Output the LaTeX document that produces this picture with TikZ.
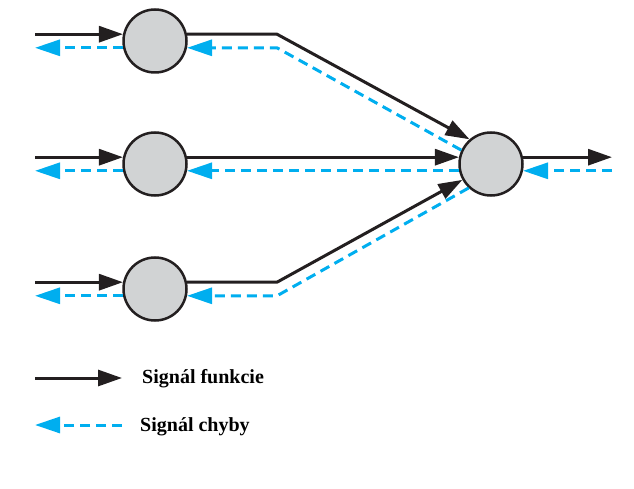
\documentclass[tikz,border=0pt]{standalone}
\usepackage{fontspec}
\setmainfont{Liberation Serif}
\usetikzlibrary{arrows.meta}
\definecolor{errblue}{RGB}{0,174,239}
\definecolor{nodegray}{RGB}{209,211,212}
\definecolor{linedark}{RGB}{35,31,32}

\begin{document}
\begin{tikzpicture}[x=1pt, y=1pt,
  neuron/.style={circle, draw=linedark, line width=2.5pt, fill=nodegray, minimum size=63pt, inner sep=0pt},
  fwd/.style={draw=linedark, line width=3pt, -{Triangle[length=24pt,width=16pt]}},
  back/.style={draw=errblue, line width=3pt, dash pattern=on 10pt off 6pt, -{Triangle[length=25pt,width=16pt]}},
  legend/.style={anchor=base west, inner sep=0pt, font=\fontsize{20}{24}\selectfont\bfseries}]
  \useasboundingbox (0,0) rectangle (634,488);

  \node[neuron] at (155,447) (c1) {};
  \node[neuron] at (155,324) (c2) {};
  \node[neuron] at (155,199) (c3) {};
  \node[neuron] at (491,324) (cout) {};
  \coordinate (in) at (35,0);
  \coordinate (out) at (612,0);
  \coordinate (k) at (277,0);

  % inputs
  \draw[fwd] (in |- c1.168) -- (c1.168);
  \draw[fwd] (in |- c2.168) -- (c2.168);
  \draw[fwd] (in |- c3.168) -- (c3.168);
  \draw[back] (c1.192) -- (in |- c1.192);
  \draw[back] (c2.192) -- (in |- c2.192);
  \draw[back] (c3.192) -- (in |- c3.192);

  % hidden to output
  \draw[fwd] (c1.12) -- (k |- c1.12) -- (cout.131);
  \draw[fwd] (c2.12) -- (cout.168);
  \draw[fwd] (c3.12) -- (k |- c3.12) -- (cout.209);
  \draw[back] (cout.155) -- (k |- c1.-12) -- (c1.-12);
  \draw[back] (cout.192) -- (c2.-12);
  \draw[back] (cout.227) -- (k |- c3.-12) -- (c3.-12);

  % output
  \draw[fwd] (cout.12) -- (out |- cout.12);
  \draw[back] (out |- cout.-12) -- (cout.-12);

  % legend
  \coordinate (lf1) at (35,110);
  \coordinate (lf2) at (122,110);
  \coordinate (lb1) at (35,63);
  \coordinate (lb2) at (122,63);
  \draw[fwd] (lf1) -- (lf2);
  \draw[back] (lb2) -- (lb1);
  \node[legend] at (142,105) (t1) {Signál funkcie};
  \node[legend] at (140,57) (t2) {Signál chyby};

\end{tikzpicture}
\end{document}
